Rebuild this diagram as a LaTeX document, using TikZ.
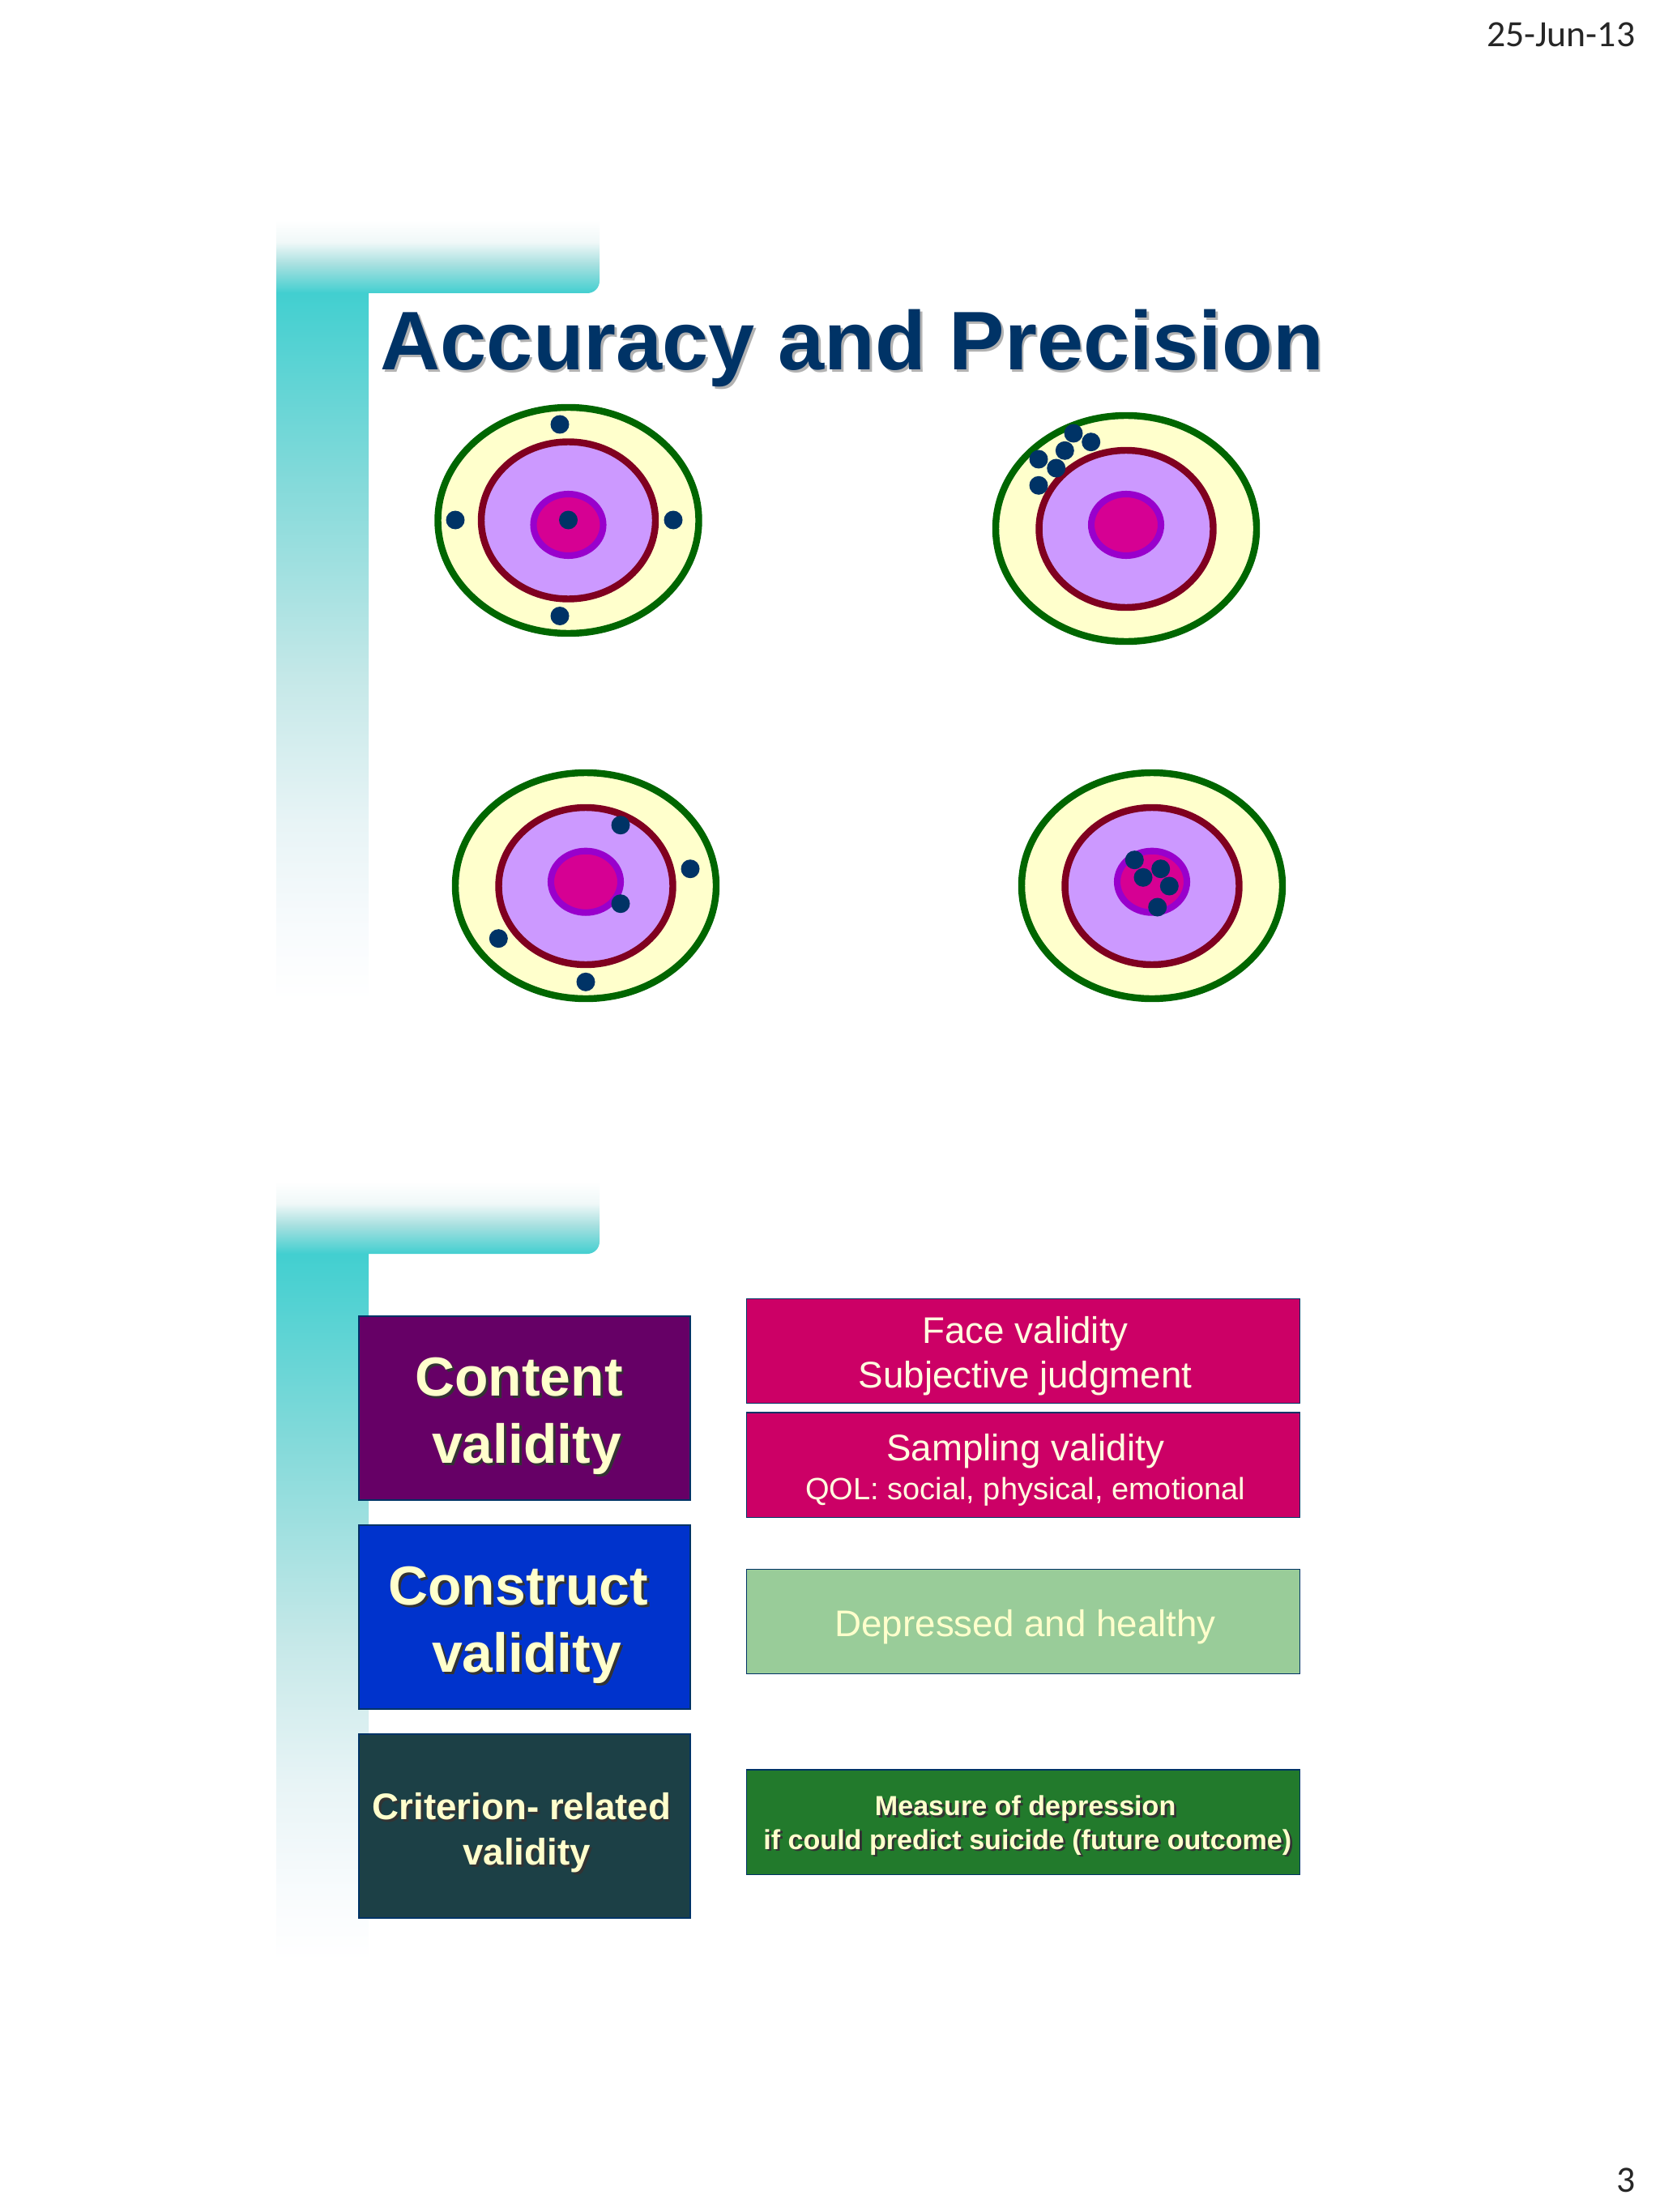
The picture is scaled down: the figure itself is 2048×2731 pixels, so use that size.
\documentclass[tikz,border=0pt]{standalone}
\usepackage{fontspec}
\setmainfont{Liberation Sans}
\newfontfamily\pagefont{Carlito}
\definecolor{barteal}{HTML}{42CFD0}
\definecolor{fadea}{HTML}{85DADA}
\definecolor{fadeb}{HTML}{C5E8E8}
\definecolor{fadec}{HTML}{E8F4F6}
\definecolor{faded}{HTML}{F8FBFD}
\definecolor{bara}{HTML}{F0F8F8}
\definecolor{barb}{HTML}{A8E0E0}
\definecolor{titleblue}{HTML}{003366}
\definecolor{ringgreen}{HTML}{006600}
\definecolor{ringred}{HTML}{800020}
\definecolor{ringcream}{HTML}{FFFFCC}
\definecolor{ringlilac}{HTML}{CC99FF}
\definecolor{corepurple}{HTML}{9900CC}
\definecolor{corepink}{HTML}{D60093}
\definecolor{boxplum}{HTML}{660066}
\definecolor{boxblue}{HTML}{0033CC}
\definecolor{boxslate}{HTML}{1C4046}
\definecolor{boxrose}{HTML}{CC0066}
\definecolor{boxsage}{HTML}{99CC99}
\definecolor{boxgreen}{HTML}{227A2C}
\pgfdeclareverticalshading{sidefade}{100bp}{color(0bp)=(white); color(25bp)=(white); color(30bp)=(faded); color(37.5bp)=(fadec); color(47.8bp)=(fadeb); color(61.4bp)=(fadea); color(75bp)=(barteal); color(100bp)=(barteal)}
\pgfdeclareverticalshading{barfade}{100bp}{color(0bp)=(barteal); color(25bp)=(barteal); color(45bp)=(barb); color(60bp)=(bara); color(75bp)=(white); color(100bp)=(white)}
\newcommand{\shad}[2][black!80]{\leavevmode\rlap{\hspace{0.8pt}\raisebox{-0.8pt}{\color{#1}#2}}#2}
\newcommand{\nudge}{\hspace*{1.5pt}}
\tikzset{
  outerring/.style={draw=ringgreen, fill=ringcream, line width=2.4pt},
  innerring/.style={draw=ringred, fill=ringlilac, line width=2.4pt},
  corering/.style={draw=corepurple, fill=corepink, line width=2.3pt},
  shot/.style={fill=titleblue},
  pagemark/.style={font=\pagefont\fontsize{13}{15}\selectfont, anchor=base east, inner sep=0pt, text=black!85},
  leftbox/.style={draw=titleblue, line width=0.4pt, minimum width=116.4pt, minimum height=64.6pt, inner sep=0pt, align=center, text=ringcream},
  bigleft/.style={leftbox, font=\bfseries\fontsize{19.3}{23.6}\selectfont},
  rightbox/.style={draw=titleblue, line width=0.4pt, minimum width=194.2pt, minimum height=36.8pt, inner sep=0pt, align=center},
  plainright/.style={rightbox, font=\fontsize{13}{15.8}\selectfont},
}
\begin{document}
\begin{tikzpicture}[x=0.01cm, y=-0.01cm]
\useasboundingbox (0,0) rectangle (2048,2731);

%% page marks
\node[pagemark] (date) at (2019,58) {25-Jun-13};
\node[pagemark] (pagenum) at (2019,2706) {3};

%% upper slide banner
\shade[shading=barfade] (341,272) -- (740,272) -- (740,347) arc (0:90:15) -- (341,362) -- cycle;
\shade[shading=sidefade] (341,362) rectangle (455,1236);

%% title
\node[anchor=base west, inner sep=0pt, font=\bfseries\fontsize{29.2}{32}\selectfont, text=titleblue] (title) at (469,457) {\shad[black!30]{Accuracy and Precision}};

%% target a
\draw[outerring] (701.5,642.5) ellipse (161 and 139.5);
\draw[innerring] (701.5,642.5) ellipse (107.5 and 97);
\draw[corering] (701.5,648) ellipse (43 and 38);
\fill[shot] (691,524) circle (11.5);
\fill[shot] (562,642) circle (11.5);
\fill[shot] (831,642) circle (11.5);
\fill[shot] (691,760.5) circle (11.5);
\fill[shot] (701.5,642) circle (11.5);

%% target b
\draw[outerring] (1390,652.5) ellipse (161 and 139.5);
\draw[innerring] (1390,653) ellipse (107.5 and 97);
\draw[corering] (1390,648) ellipse (43 and 38);
\fill[shot] (1325,535) circle (11.5);
\fill[shot] (1346.7,545.7) circle (11.5);
\fill[shot] (1314.3,556.3) circle (11.5);
\fill[shot] (1282,567) circle (11.5);
\fill[shot] (1303.7,578) circle (11.5);
\fill[shot] (1282,599.3) circle (11.5);

%% target c
\draw[outerring] (723,1093.5) ellipse (161 and 139.5);
\draw[innerring] (723,1094) ellipse (107.5 and 97);
\draw[corering] (723,1088.7) ellipse (43 and 38);
\fill[shot] (766,1018.7) circle (11.5);
\fill[shot] (852,1072.7) circle (11.5);
\fill[shot] (766,1115.7) circle (11.5);
\fill[shot] (615.3,1158.7) circle (11.5);
\fill[shot] (723,1212.3) circle (11.5);

%% target d
\draw[outerring] (1422,1093.5) ellipse (161 and 139.5);
\draw[innerring] (1422,1094) ellipse (107.5 and 97);
\draw[corering] (1422,1088.7) ellipse (43 and 38);
\fill[shot] (1400.3,1061.7) circle (11.5);
\fill[shot] (1432.7,1072.7) circle (11.5);
\fill[shot] (1411,1083.3) circle (11.5);
\fill[shot] (1443.3,1094) circle (11.5);
\fill[shot] (1428.7,1120) circle (11.5);

%% lower slide banner
\shade[shading=barfade] (341,1459) -- (740,1459) -- (740,1533) arc (0:90:15) -- (341,1548) -- cycle;
\shade[shading=sidefade] (341,1548) rectangle (455,2422);

%% left boxes
\node[bigleft, fill=boxplum] (content) at (647.5,1738.5) {\rule{0pt}{20pt}\shad{Content}\hspace*{4pt}\\\nudge\shad{validity}};
\node[bigleft, fill=boxblue] (construct) at (647.5,1996.5) {\rule{0pt}{20pt}\shad{Construct}\hspace*{4.5pt}\\\nudge\shad{validity}};
\node[leftbox, fill=boxslate, font=\bfseries\fontsize{13}{16}\selectfont] (criterion) at (647.5,2254.5) {\rule{0pt}{15pt}\shad{Criterion- related}\hspace*{2pt}\\\nudge\shad{validity}};

%% right boxes
\node[plainright, fill=boxrose, text=ringcream!60!white] (face) at (1263,1668) {\rule{0pt}{13pt}\nudge Face validity\\\nudge Subjective judgment};
\node[plainright, fill=boxrose, text=ringcream!60!white] (sampling) at (1263,1808.5) {\rule{0pt}{13pt}\nudge Sampling validity\\[-2pt]\nudge{\fontsize{10.8}{13}\selectfont QOL: social, physical, emotional}};
\node[plainright, fill=boxsage, text=ringcream] (depressed) at (1263,2002) {\rule{0pt}{13pt}\nudge Depressed and healthy};
\node[rightbox, fill=boxgreen, text=ringcream, font=\bfseries\fontsize{9.7}{11.9}\selectfont] (measure) at (1263,2249.5) {\rule{0pt}{10pt}\nudge\shad{Measure of depression}\\\hspace*{3pt}\shad{if could predict suicide (future outcome)}};
\end{tikzpicture}
\end{document}
